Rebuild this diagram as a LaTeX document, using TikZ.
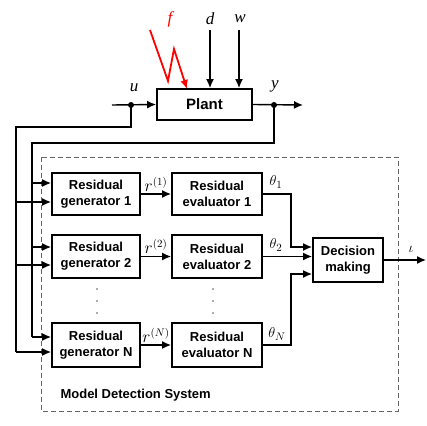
\documentclass[tikz,border=0pt]{standalone}
\usepackage{fontspec}
\setmainfont{Liberation Sans}
\newfontfamily\serifit{Liberation Serif}[ItalicFont={Liberation Serif Italic}]
\usetikzlibrary{arrows.meta,calc}

\begin{document}
\begin{tikzpicture}[x=1pt, y=-1pt,
        block/.style={draw, line width=1.9pt, inner sep=0pt, align=center,
            font=\fontsize{13}{16}\selectfont\bfseries},
        arr/.style={line width=1.4pt, -{Latex[length=9pt,width=8pt]}},
        wire/.style={line width=1.4pt},
        sig/.style={font=\fontsize{17}{17}\selectfont\serifit\itshape},
        lbl/.style={font=\fontsize{15}{15}\selectfont, inner sep=1pt}
    ]
        \useasboundingbox (0,0) rectangle (427,425);

        % plant and its signals
        \node[block, minimum width=95pt, minimum height=31pt,
            font=\fontsize{15}{15}\selectfont\bfseries] (plant) at (204.5,104.5) {Plant};
        \coordinate (uin) at (112,105);
        \coordinate (udot) at (131,105);
        \coordinate (ydot) at (274,105);
        \coordinate (yout) at (303,105);
        \draw[arr] (uin) -- (plant.west);
        \draw[arr] (plant.east) -- (yout);
        \fill (udot) circle (3pt) (ydot) circle (3pt);
        \node[sig] (ulab) at (134,88) {u};
        \node[sig] (ylab) at (275,86) {y};

        \coordinate (din) at (210,30);
        \coordinate (win) at (239,30);
        \draw[arr] (din) -- (din |- plant.north);
        \draw[arr] (win) -- (win |- plant.north);
        \node[sig] (dlab) at (210,19) {d};
        \node[sig] (wlab) at (240,19) {w};

        \coordinate (fin) at (150,30);
        \draw[arr, red, line width=1.8pt, line join=miter]
            (fin) -- (168,81) -- (174,49) -- (187,89);
        \node[sig, red] (flab) at (170,19) {f};

        % model detection system
        \draw[gray!80!black, line width=0.9pt, dash pattern=on 5pt off 3pt] (41,157) rectangle (398,411);
        \node[anchor=west, font=\fontsize{13}{13}\selectfont\bfseries] (mds) at (57,395) {Model Detection System};

        \node[block, minimum width=88pt, minimum height=42pt] (gen1) at (96,194) {Residual\\generator 1};
        \node[block, minimum width=88pt, minimum height=43pt] (gen2) at (96,256.5) {Residual\\generator 2};
        \node[block, minimum width=88pt, minimum height=44pt] (genN) at (96,345) {Residual\\generator N};

        \node[block, minimum width=90pt, minimum height=42pt] (eval1) at (217,194) {Residual\\evaluator 1};
        \node[block, minimum width=90pt, minimum height=43pt] (eval2) at (217,256.5) {Residual\\evaluator 2};
        \node[block, minimum width=90pt, minimum height=44pt] (evalN) at (217,345) {Residual\\evaluator N};

        \node[block, minimum width=70pt, minimum height=44pt] (dec) at (348,260) {Decision\\making};

        \foreach \xx in {97,213}
            \foreach \yy in {289,301,313}
                \fill[gray!70!black] (\xx,\yy) circle (0.8pt);

        % inputs of the generators: a from y, b from u
        \foreach \g/\up/\dn in {gen1/11/-8, gen2/9.5/-8.5, genN/8/-7} {
            \coordinate (\g-a) at ([yshift=\up pt]\g.west);
            \coordinate (\g-b) at ([yshift=\dn pt]\g.west);
        }

        % feedback of u and y
        \coordinate (ubus) at (16,127);
        \coordinate (ybus) at (32,143);
        \draw[wire] (ydot) |- (ybus) -- (ybus |- genN-a);
        \draw[wire] (udot) |- (ubus) -- (ubus |- genN-b);
        \foreach \g in {gen1, gen2, genN} {
            \draw[arr] (ybus |- \g-a) -- (\g-a);
            \draw[arr] (ubus |- \g-b) -- (\g-b);
        }

        % residuals
        \draw[arr] (gen1) -- (eval1) node[pos=0.5, above=1pt, lbl, font=\fontsize{16}{16}\selectfont] (r1) {$r^{(1)}$};
        \draw[arr] (gen2) -- (eval2) node[pos=0.5, above=1pt, lbl, font=\fontsize{16}{16}\selectfont] (r2) {$r^{(2)}$};
        \draw[arr] (genN) -- (evalN) node[pos=0.5, above=1pt, lbl, font=\fontsize{16}{16}\selectfont] (rN) {$r^{(N)}$};

        % evaluations to decision
        \coordinate (tbus) at (291,260);
        \draw[arr] (eval1.east) -- (eval1.east -| tbus) |- ([yshift=13pt]dec.west);
        \draw[arr] (eval2.east) -- (eval2.east -| dec.west);
        \draw[arr] (evalN.east) -- (evalN.east -| tbus) |- ([yshift=-14pt]dec.west);
        \node[lbl] (t1) at (276,182) {$\theta_1$};
        \node[lbl] (t2) at (276,245) {$\theta_2$};
        \node[lbl] (tN) at (277,334) {$\theta_N$};

        \coordinate (iout) at (426,260);
        \draw[arr] (dec.east) -- (iout);
        \node[lbl] (iota) at (411,249) {$\iota$};
    \end{tikzpicture}
\end{document}
